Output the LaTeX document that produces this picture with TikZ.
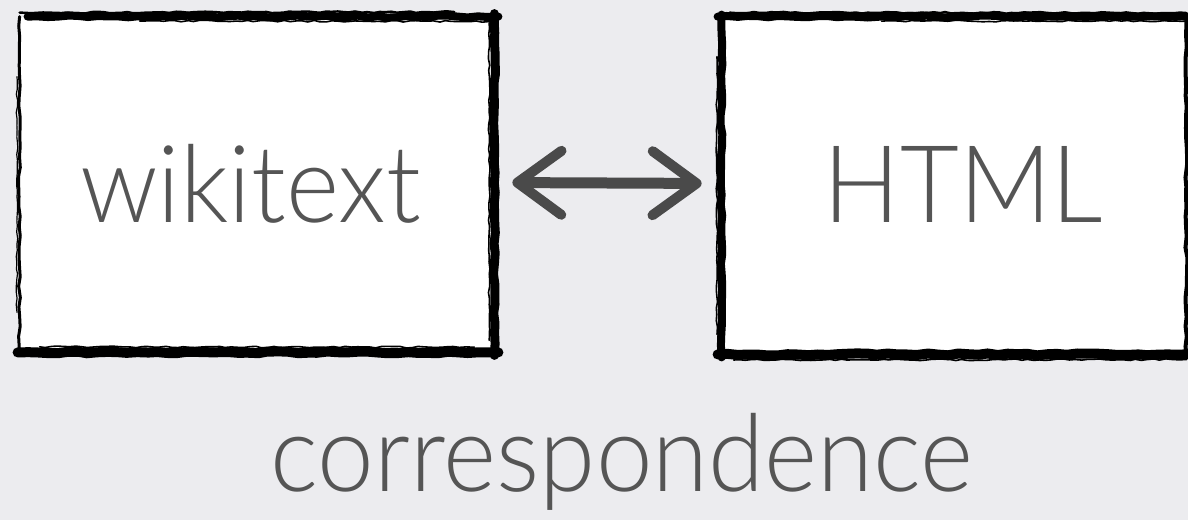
\documentclass[tikz,border=0pt]{standalone}
\usepackage{fontspec}
\setmainfont{Lato}[UprightFont=* Light]
\usetikzlibrary{decorations.pathmorphing,arrows.meta}
\definecolor{bgc}{RGB}{236,236,239}
\definecolor{inkc}{RGB}{85,85,85}
\definecolor{arrc}{RGB}{74,74,74}
\newcommand\narrow[1]{\scalebox{0.945}[1]{#1}}
\tikzset{
  frame/.style={fill=white, draw=none, inner sep=0pt},
  lbl/.style={text=inkc, font=\fontsize{53.75}{60}\selectfont, inner sep=0pt, anchor=base},
  rough/.style={draw=black, line cap=round, decorate,
    decoration={random steps, segment length=5pt, amplitude=0.5pt}},
  streak/.style={draw=black, line cap=round, decorate,
    decoration={random steps, segment length=3pt, amplitude=0.4pt}},
  arr/.style={draw=arrc, line width=5.5pt, line cap=round,
    {Straight Barb[length=22pt, width=32pt, line width=5pt, round]}-{Straight Barb[length=22pt, width=32pt, line width=5pt, round]}},
}
\begin{document}
\begin{tikzpicture}[x=0.5pt,y=-0.5pt]
\pgfmathsetseed{7}
\useasboundingbox (0,0) rectangle (1188,520);
\fill[bgc] (0,0) rectangle (1188,520);
\clip (0,0) rectangle (1188,520);
% boxes
\node[frame, minimum width=237pt, minimum height=167.5pt] (wiki) at (257,184.5) {};
\node[frame, minimum width=232pt, minimum height=168.5pt] (html) at (954,185.5) {};
% rough borders, left box
\draw[rough, line width=4pt] ([xshift=4pt]wiki.north west) -- ([xshift=2pt]wiki.north east);
\draw[streak, line width=1.2pt] ([yshift=2pt]wiki.north west) -- ([xshift=-20pt,yshift=2.3pt]wiki.north east);
\draw[streak, line width=0.8pt] ([xshift=60pt,yshift=-2.2pt]wiki.north west) -- ([xshift=-2pt,yshift=-2.4pt]wiki.north east);
\draw[rough, line width=4.5pt] ([yshift=1.5pt]wiki.north east) -- ([yshift=-1.5pt]wiki.south east);
\draw[streak, line width=0.8pt] ([xshift=-2.6pt,yshift=-3pt]wiki.north east) -- ([xshift=-2.6pt,yshift=6pt]wiki.south east);
\draw[rough, line width=5pt] ([xshift=-1pt]wiki.south west) -- ([xshift=2pt]wiki.south east);
\draw[streak, line width=0.8pt] ([xshift=10pt,yshift=2.8pt]wiki.south west) -- ([xshift=-10pt,yshift=2.6pt]wiki.south east);
\draw[rough, line width=1.5pt] (wiki.north west) -- ([yshift=-1pt]wiki.south west);
\draw[streak, line width=0.6pt] ([xshift=-1.3pt,yshift=-30pt]wiki.north west) -- ([xshift=-1.3pt,yshift=20pt]wiki.south west);
% rough borders, right box
\draw[rough, line width=4pt] ([xshift=-2pt]html.north west) -- ([xshift=4pt]html.north east);
\draw[streak, line width=1.2pt] ([xshift=4pt,yshift=2pt]html.north west) -- ([yshift=1.8pt]html.north east);
\draw[streak, line width=0.8pt] ([xshift=80pt,yshift=-2.3pt]html.north west) -- ([yshift=-2.2pt]html.north east);
\draw[rough, line width=4pt] ([yshift=1pt]html.north west) -- ([yshift=-1.5pt]html.south west);
\draw[streak, line width=0.8pt] ([xshift=-2.3pt,yshift=-20pt]html.north west) -- ([xshift=-2.3pt,yshift=10pt]html.south west);
\draw[rough, line width=5pt] ([xshift=-2pt]html.south west) -- ([xshift=4pt]html.south east);
\draw[streak, line width=0.8pt] ([xshift=6pt,yshift=-2.8pt]html.south west) -- ([yshift=-2.6pt]html.south east);
\draw[rough, line width=2pt] (html.north east) -- (html.south east);
% connector
\draw[arr, shorten <=9pt, shorten >=10pt] ([yshift=1pt]wiki.east) -- ([yshift=1pt]html.west);
% labels
\node[lbl] (wt) at (250.5,222) {\narrow{wikitext}};
\node[lbl] (ht) at (963.5,222) {\narrow{HTML}};
\node[lbl] (co) at (622,491) {\narrow{correspondence}};
\end{tikzpicture}
\end{document}
